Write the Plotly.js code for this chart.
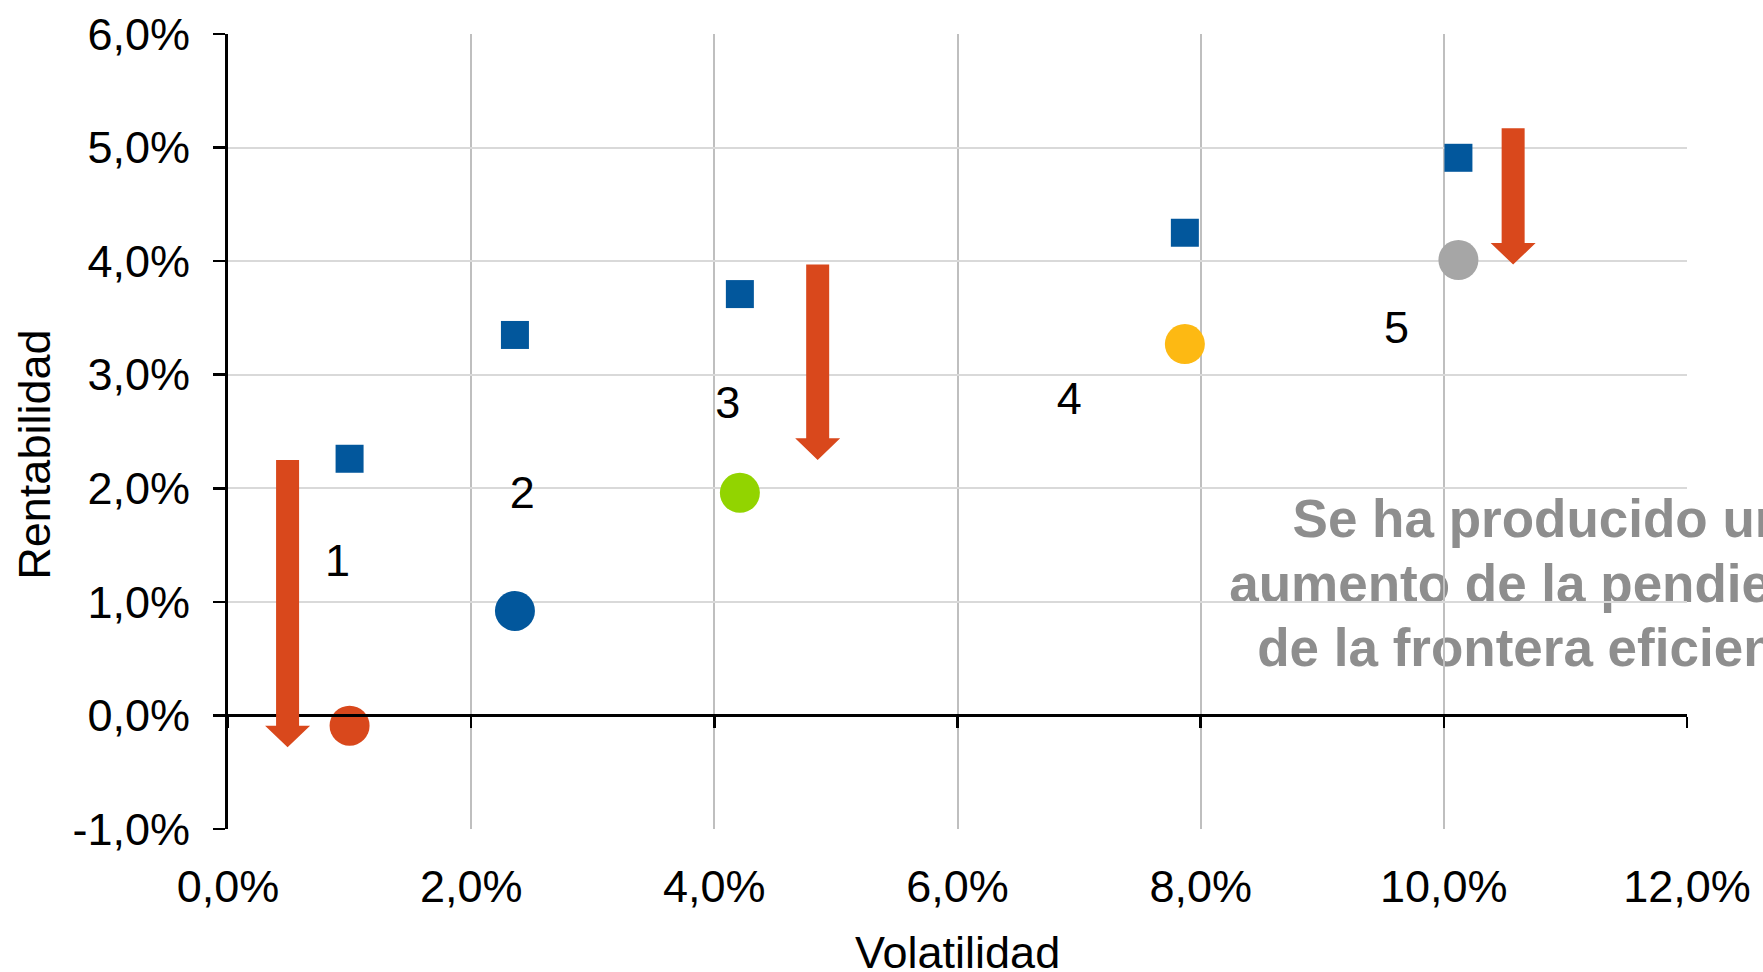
<!DOCTYPE html>
<html>
<head>
<meta charset="utf-8">
<script src="https://cdn.plot.ly/plotly-3.0.1.min.js"></script>
<style>
  html, body { margin: 0; padding: 0; background: #ffffff; }
  #chart { width: 1763px; height: 972px; }
</style>
</head>
<body>
<div id="chart"></div>
<script>
// Portfolio numbers
const portfolios = ['1', '2', '3', '4', '5'];
// Volatility of each portfolio (%)
const volatility = [1.00, 2.36, 4.21, 7.87, 10.12];
// Return before the shift (squares) and after it (circles), in %
const returnBefore = [2.26, 3.35, 3.71, 4.25, 4.91];
const returnAfter = [-0.09, 0.92, 1.96, 3.27, 4.01];
// Where each portfolio number is written (volatility %, return %)
const numberVol = [0.90, 2.42, 4.11, 6.92, 9.61];
const numberRet = [1.325, 1.925, 2.715, 2.755, 3.375];
// Downward arrows: volatility, start return, end return (%)
const arrowVol = [0.49, 4.85, 10.57];
const arrowFrom = [2.25, 3.97, 5.17];
const arrowTo = [-0.28, 2.25, 3.97];
// Axis ticks
const xTickVals = [0, 2, 4, 6, 8, 10, 12];
const xTickText = ['0,0%', '2,0%', '4,0%', '6,0%', '8,0%', '10,0%', '12,0%'];
const yTickVals = [-1, 0, 1, 2, 3, 4, 5, 6];
const yTickText = ['-1,0%', '0,0%', '1,0%', '2,0%', '3,0%', '4,0%', '5,0%', '6,0%'];
// Note text and the centre of its middle line (volatility %, return %)
const noteLines = ['Se ha producido un', 'aumento de la pendiente', 'de la frontera eficiente'];
const noteVol = 10.79;
const noteRet = 1.21;

// Styles
const FONT = 'Liberation Sans, Arial, Helvetica, sans-serif';
const circleColors = ['#D9481C', '#02579C', '#92D400', '#FDB913', '#A6A6A6'];
const squareColor = '#02579C';
const arrowColor = '#D9481C';
const noteColor = '#8E8E8E';
const xRange = [0, 12];
const yRange = [-1, 6];
const W = 1763, H = 972;
const M = { l: 228, r: 76, t: 34, b: 143 };
const plotW = W - M.l - M.r;
const plotH = H - M.t - M.b;

const traces = [
  {
    type: 'scatter', mode: 'markers', x: volatility, y: returnBefore,
    marker: { symbol: 'square', size: 28, color: squareColor },
    hoverinfo: 'x+y', showlegend: false, cliponaxis: false
  },
  {
    type: 'scatter', mode: 'markers', x: volatility, y: returnAfter,
    marker: { symbol: 'circle', size: 40, color: circleColors },
    hoverinfo: 'x+y', showlegend: false, cliponaxis: false
  },
  {
    type: 'scatter', mode: 'text', x: numberVol, y: numberRet, text: portfolios,
    textposition: 'middle center',
    textfont: { family: FONT, size: 45, color: '#000000' },
    hoverinfo: 'skip', showlegend: false, cliponaxis: false
  },
  // carries the axis drawn along the zero return line
  {
    type: 'scatter', mode: 'markers', x: [], y: [], xaxis: 'x2', yaxis: 'y',
    hoverinfo: 'skip', showlegend: false
  }
];

// Block arrows: shaft and head widths in pixels, lengths in return units
const shaftHalf = 11.5, headHalf = 22.5, headLen = 0.19;
const shapes = arrowVol.map((v, i) => {
  const top = arrowFrom[i], tip = arrowTo[i], base = tip + headLen;
  return {
    type: 'path', xref: 'x', yref: 'y', xsizemode: 'pixel', xanchor: v, layer: 'above',
    path: `M ${-shaftHalf},${top} L ${shaftHalf},${top} L ${shaftHalf},${base} L ${headHalf},${base} ` +
          `L 0,${tip} L ${-headHalf},${base} L ${-shaftHalf},${base} Z`,
    fillcolor: arrowColor, line: { width: 0 }
  };
});

// Note lines sit under the gridlines and run past the right edge
const nx = (noteVol - xRange[0]) / (xRange[1] - xRange[0]);
const ny = (noteRet - yRange[0]) / (yRange[1] - yRange[0]);
const lineStep = 64.7 / plotH;
noteLines.forEach((line, i) => {
  const cy = ny - (i - 1) * lineStep;
  shapes.push({
    type: 'rect', xref: 'paper', yref: 'paper', layer: 'below',
    x0: nx - 0.02, x1: nx + 0.02, y0: cy - 0.01, y1: cy + 0.01,
    line: { width: 0 }, fillcolor: 'rgba(0,0,0,0)',
    label: {
      text: '<b>' + line + '</b>',
      textposition: 'middle center',
      font: { family: FONT, size: 53, color: noteColor }
    }
  });
});

const titleFont = { family: FONT, size: 45, color: '#000000' };

const layout = {
  width: W, height: H,
  margin: { l: M.l, r: M.r, t: M.t, b: M.b, pad: 0 },
  paper_bgcolor: '#ffffff', plot_bgcolor: 'rgba(0,0,0,0)',
  font: { family: FONT, size: 45, color: '#000000' },
  showlegend: false,
  xaxis: {
    range: xRange, tickmode: 'array', tickvals: xTickVals, ticktext: xTickText,
    showgrid: true, gridcolor: '#BFBFBF', gridwidth: 2,
    zeroline: false, showline: false, ticks: '', ticklabelstandoff: 27,
    tickfont: { family: FONT, size: 45, color: '#000000' }
  },
  xaxis2: {
    range: xRange, overlaying: 'x', anchor: 'free',
    position: (0 - yRange[0]) / (yRange[1] - yRange[0]),
    tickmode: 'array', tickvals: xTickVals, showticklabels: false,
    showgrid: false, zeroline: false,
    showline: true, linecolor: '#000000', linewidth: 3,
    ticks: 'outside', ticklen: 11, tickwidth: 2.5, tickcolor: '#000000'
  },
  yaxis: {
    range: yRange, tickmode: 'array', tickvals: yTickVals, ticktext: yTickText,
    showgrid: true, gridcolor: '#D9D9D9', gridwidth: 2, zeroline: false,
    showline: true, linecolor: '#000000', linewidth: 3,
    ticks: 'outside', ticklen: 12, tickwidth: 2.5, tickcolor: '#000000',
    ticklabelstandoff: 14,
    tickfont: { family: FONT, size: 45, color: '#000000' }
  },
  annotations: [
    {
      // horizontal axis title
      text: 'Volatilidad', showarrow: false,
      xref: 'paper', yref: 'paper', x: 0.5, y: (H - M.b - 952) / plotH,
      xanchor: 'center', yanchor: 'middle', font: titleFont
    },
    {
      // vertical axis title
      text: 'Rentabilidad', textangle: -90, showarrow: false,
      xref: 'paper', yref: 'paper', x: (33.7 - M.l) / plotW, y: (H - M.b - 455) / plotH,
      xanchor: 'center', yanchor: 'middle', font: titleFont
    }
  ],
  shapes: shapes
};

Plotly.newPlot('chart', traces, layout, { displayModeBar: false, staticPlot: true });
</script>
</body>
</html>
